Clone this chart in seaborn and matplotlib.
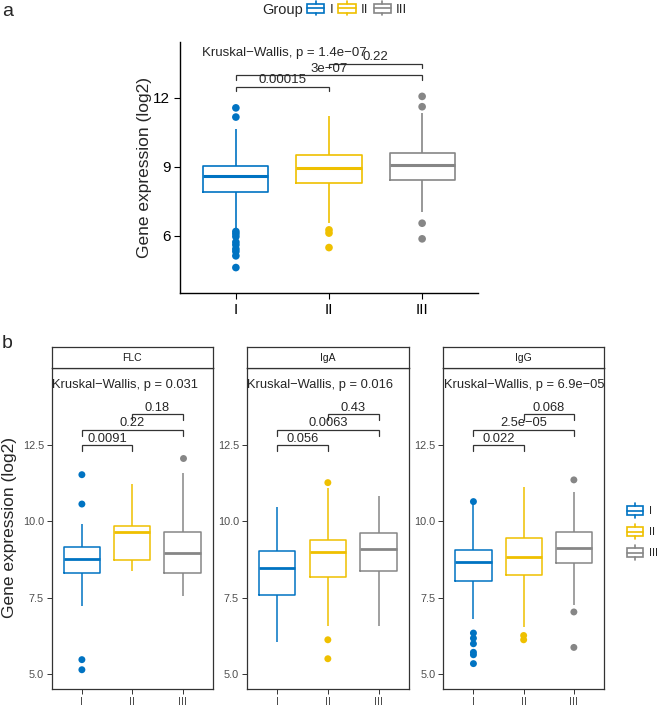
import matplotlib
matplotlib.use("Agg")
import matplotlib.pyplot as plt
import seaborn as sns
import pandas as pd
from matplotlib.legend_handler import HandlerBase
from matplotlib.patches import Rectangle
from matplotlib.lines import Line2D

# ---------------- data ----------------
groups = ["I", "II", "III"]
colors = ["#0073C2", "#EFC000", "#868686"]

# five-number summaries per group: lower whisker, Q1, median, Q3, upper whisker
a_five = [[6.26, 7.93, 8.62, 9.06, 10.65],
          [6.55, 8.32, 8.97, 9.51, 11.22],
          [7.03, 8.41, 9.07, 9.60, 11.33]]
a_out = [[11.57, 11.17, 6.19, 6.09, 5.97, 5.73, 5.61, 5.43, 5.32, 5.13, 4.62],
         [6.26, 6.12, 5.49],
         [12.07, 11.62, 6.55, 5.87]]
a_kw = "Kruskal\u2212Wallis, p = 1.4e\u221207"
a_pvals = ["0.00015", "3e\u221207", "0.22"]

facets = ["FLC", "IgA", "IgG"]
flc_five = [[7.25, 8.31, 8.77, 9.18, 9.91],
            [8.37, 8.75, 9.64, 9.86, 11.23],
            [7.55, 8.31, 8.97, 9.65, 11.60]]
flc_out = [[11.53, 10.57, 5.48, 5.15], [], [12.07]]
iga_five = [[6.05, 7.58, 8.48, 9.04, 10.46],
            [6.59, 8.18, 9.00, 9.38, 11.10],
            [6.57, 8.38, 9.11, 9.61, 10.84]]
iga_out = [[], [11.27, 6.13, 5.51], []]
igg_five = [[6.81, 8.05, 8.66, 9.07, 10.60],
            [6.55, 8.25, 8.85, 9.46, 11.14],
            [7.27, 8.64, 9.12, 9.65, 10.95]]
igg_out = [[10.65, 6.35, 6.18, 6.00, 5.72, 5.64, 5.35], [6.27, 6.13], [11.36, 7.04, 5.88]]
b_kw = ["0.031", "0.016", "6.9e\u221205"]
b_pvals = [["0.0091", "0.22", "0.18"],
           ["0.056", "0.0063", "0.43"],
           ["0.022", "2.5e\u221205", "0.068"]]
pairs = [("I", "II"), ("I", "III"), ("II", "III")]

# ---------------- style ----------------
sns.set_style("white")
plt.rcParams["font.family"] = ["Liberation Sans", "DejaVu Sans"]
palette = dict(zip(groups, colors))

W, H = 657, 705
fig = plt.figure(figsize=(W / 100, H / 100), dpi=100)


def fx(px):
    return px / W


def fy(py):
    return 1 - py / H


def draw_panel(ax, five, out, width, lw, med_lw, pt_size):
    box_df = pd.DataFrame([(g, v) for g, vals in zip(groups, five) for v in vals],
                          columns=["group", "value"])
    out_df = pd.DataFrame([(g, v) for g, vals in zip(groups, out) for v in vals],
                          columns=["group", "value"])
    sns.boxplot(data=box_df, x="group", y="value", hue="group", order=groups,
                hue_order=groups, palette=palette, whis=(0, 100), fill=False,
                width=width, linewidth=lw, showcaps=False, showfliers=False,
                medianprops=dict(linewidth=med_lw), dodge=False, legend=False, ax=ax)
    sns.stripplot(data=out_df, x="group", y="value", hue="group", order=groups,
                  hue_order=groups, palette=palette, jitter=False, size=pt_size,
                  linewidth=0, dodge=False, legend=False, ax=ax)


def brackets(ax, labels, fs, leg=0.2, levels=(12.5, 13.0, 13.5)):
    for (g1, g2), lab, y in zip(pairs, labels, levels):
        i, j = groups.index(g1), groups.index(g2)
        ax.plot([i, i, j, j], [y - leg, y, y, y - leg], color="#333333", lw=0.9,
                solid_joinstyle="miter")
        ax.text((i + j) / 2, y + 0.01, lab, ha="center", va="bottom", fontsize=fs)


class BoxHandler(HandlerBase):
    def create_artists(self, legend, orig_handle, xdescent, ydescent, width, height,
                       fontsize, trans):
        c = orig_handle.get_color()
        x0, y0 = -xdescent, -ydescent
        rect = Rectangle((x0, y0), width, height, fill=False, ec=c, lw=1.2, transform=trans)
        med = Line2D([x0, x0 + width], [y0 + height / 2] * 2, color=c, lw=1.2, transform=trans)
        wt = Line2D([x0 + width / 2] * 2, [y0 + height, y0 + height * 1.35], color=c, lw=1.2,
                    transform=trans)
        wb = Line2D([x0 + width / 2] * 2, [y0 - height * 0.35, y0], color=c, lw=1.2,
                    transform=trans)
        return [rect, med, wt, wb]


handles = [Line2D([], [], color=c) for c in colors]

# ---------------- panel a ----------------
axa = fig.add_axes([fx(180), fy(293.3), fx(478 - 180), (293.3 - 41.7) / H])
draw_panel(axa, a_five, a_out, width=0.70, lw=1.2, med_lw=2.2, pt_size=5.5)
axa.set_xlim(-0.6, 2.6)
axa.set_ylim(3.5, 14.45)
axa.set_yticks([6, 9, 12])
axa.set_xlabel("")
axa.set_ylabel("")
for s in ["top", "right"]:
    axa.spines[s].set_visible(False)
for s in ["left", "bottom"]:
    axa.spines[s].set_color("black")
    axa.spines[s].set_linewidth(1.0)
axa.tick_params(axis="both", which="both", direction="out", length=4, width=0.8,
                labelsize=11, colors="black", left=True, bottom=True, pad=3)
axa.text(-0.36, 13.96, a_kw, ha="left", va="center", fontsize=9.5)
brackets(axa, a_pvals, fs=9.5)
fig.text(fx(145), fy(167), "Gene expression (log2)", rotation=90, ha="center",
         va="center", fontsize=12.5)
fig.text(fx(2), fy(12), "a", ha="left", va="center", fontsize=14)

fig.text(fx(262), fy(10), "Group", ha="left", va="center", fontsize=10.5)
fig.legend(handles, groups, handler_map={Line2D: BoxHandler()}, ncol=3,
           loc="center left", bbox_to_anchor=(fx(307), fy(10)), frameon=False,
           fontsize=9.5, handlelength=1.3, handleheight=0.6, handletextpad=0.4,
           columnspacing=0.4, borderpad=0, borderaxespad=0)

# ---------------- panel b ----------------
b_five = [flc_five, iga_five, igg_five]
b_out = [flc_out, iga_out, igg_out]
lefts = [51.7, 246.7, 443.3]
rights = [212.7, 409.0, 604.0]
top_px, bot_px, strip_top = 368.3, 689.3, 347.3
for k, name in enumerate(facets):
    ax = fig.add_axes([fx(lefts[k]), fy(bot_px), fx(rights[k] - lefts[k]), (bot_px - top_px) / H])
    draw_panel(ax, b_five[k], b_out[k], width=0.72, lw=1.1, med_lw=2.0, pt_size=5)
    ax.set_xlim(-0.6, 2.6)
    ax.set_ylim(4.51, 15.01)
    ax.set_yticks([5.0, 7.5, 10.0, 12.5])
    ax.set_yticklabels(["5.0", "7.5", "10.0", "12.5"])
    ax.set_xlabel("")
    ax.set_ylabel("")
    for s in ax.spines.values():
        s.set_visible(True)
        s.set_color("#333333")
        s.set_linewidth(0.9)
    ax.tick_params(axis="both", direction="out", length=3.5, width=0.7, labelsize=7.8,
                   color="#333333", labelcolor="#4D4D4D", left=True, bottom=True, pad=2)
    ax.text(-0.59, 14.46, "Kruskal\u2212Wallis, p = " + b_kw[k], ha="left", va="center",
            fontsize=9.3)
    brackets(ax, b_pvals[k], fs=9.3, leg=0.19)

    sax = fig.add_axes([fx(lefts[k]), fy(top_px), fx(rights[k] - lefts[k]),
                        (top_px - strip_top) / H])
    sax.set_xticks([])
    sax.set_yticks([])
    sax.set_facecolor("white")
    for s in sax.spines.values():
        s.set_visible(True)
        s.set_color("#333333")
        s.set_linewidth(0.9)
    sax.text(0.5, 0.5, name, ha="center", va="center", fontsize=7.5, color="#1A1A1A",
             transform=sax.transAxes)

fig.text(fx(10), fy(528), "Gene expression (log2)", rotation=90, ha="center",
         va="center", fontsize=12.5)
fig.text(fx(2), fy(344), "b", ha="left", va="center", fontsize=14)

fig.legend(handles, groups, handler_map={Line2D: BoxHandler()}, ncol=1,
           loc="upper left", bbox_to_anchor=(fx(627), fy(506)), frameon=False,
           fontsize=8, handlelength=1.45, handleheight=0.9, handletextpad=0.5,
           labelspacing=0.95, borderpad=0, borderaxespad=0)

fig.savefig("out.png", dpi=100)
